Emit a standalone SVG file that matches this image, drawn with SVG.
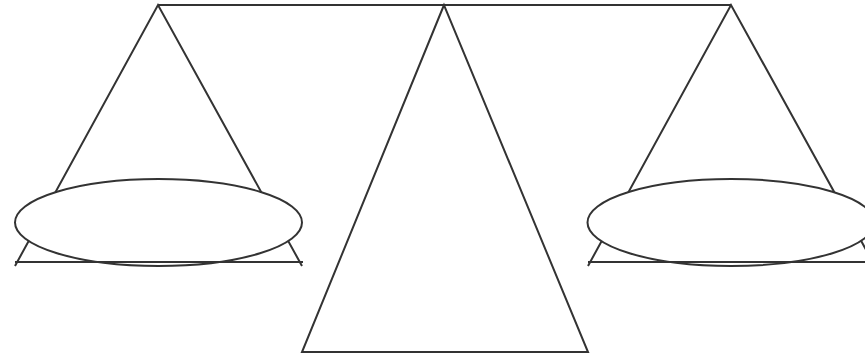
<svg xmlns="http://www.w3.org/2000/svg" width="865" height="355" viewBox="0 0 865 355">
<style>
.s{fill:none;stroke:#333;stroke-width:2;stroke-linecap:butt;stroke-linejoin:miter}
.p{fill:#fff;stroke:#333;stroke-width:2}
</style>
<rect width="865" height="355" fill="#fff"/>
<g id="beam"><line class="s" x1="158" y1="5" x2="731" y2="5"/></g>
<g id="center-stand"><polygon class="s" points="444,5 302,352 588,352"/></g>
<g id="left-pan">
<polyline class="s" points="15,266 158,5 302,266"/>
<ellipse class="p" cx="158.5" cy="222.5" rx="143.5" ry="43.5"/>
<line class="s" x1="15" y1="262" x2="303" y2="262"/>
</g>
<g id="right-pan">
<polyline class="s" points="588,266 731,5 875,266"/>
<ellipse class="p" cx="731" cy="222.5" rx="143.5" ry="43.5"/>
<line class="s" x1="588" y1="262" x2="876" y2="262"/>
</g>
</svg>
